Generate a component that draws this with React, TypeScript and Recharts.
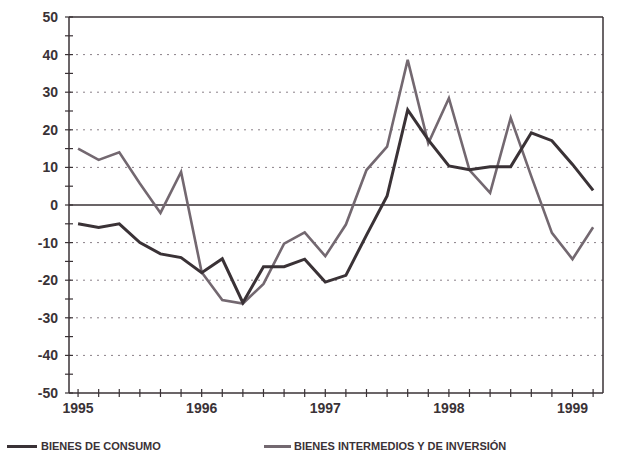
import React from "react";
import { LineChart, Line, XAxis, YAxis, CartesianGrid, ReferenceLine, Legend } from "recharts";

const periods = [
  "1995-01", "1995-03", "1995-05", "1995-07", "1995-09", "1995-11",
  "1996-01", "1996-03", "1996-05", "1996-07", "1996-09", "1996-11",
  "1997-01", "1997-03", "1997-05", "1997-07", "1997-09", "1997-11",
  "1998-01", "1998-03", "1998-05", "1998-07", "1998-09", "1998-11",
  "1999-01", "1999-03",
];
const consumo = [-5, -6, -5, -10, -13, -14, -18, -14.3, -26, -16.4, -16.4, -14.4, -20.5, -18.7, -8, 2.4, 25.3, 17.3, 10.4, 9.4, 10.2, 10.2, 19.2, 17.1, 10.8, 3.9];
const intermedios = [15, 12, 14, 5.7, -2.1, 8.8, -17.9, -25.3, -26.2, -21, -10.3, -7.3, -13.6, -5.2, 9.3, 15.5, 38.6, 16.4, 28.4, 9.3, 3.2, 23.2, 7.6, -7.4, -14.4, -5.9];
const yearLabels = ["1995", "1996", "1997", "1998", "1999"];
const yTicks = [-50, -45, -40, -35, -30, -25, -20, -15, -10, -5, 0, 5, 10, 15, 20, 25, 30, 35, 40, 45, 50];
const seriesNames = ["BIENES DE CONSUMO", "BIENES INTERMEDIOS Y DE INVERSIÓN"];

const X_MIN = -0.44;
const X_MAX = 25.48;

const data = periods.map((p, i) => ({ t: i, period: p, consumo: consumo[i], intermedios: intermedios[i] }));
const xTicks = periods.map((_, i) => i);

const INK = "#3a3236";
const LIGHT = "#736870";
const FONT = "'Liberation Sans', Arial, sans-serif";

const XTick = (props: any) => {
  const { x, y, payload } = props;
  const idx = payload.value as number;
  const p = periods[idx] || "";
  const isYear = p.endsWith("-01");
  return (
    <g>
      <line x1={x} x2={x} y1={y - 4} y2={y + 4} stroke={INK} strokeWidth={1.2} />
      {isYear && (
        <text x={x} y={y + 20} textAnchor="middle" fontFamily={FONT} fontSize={14} fontWeight="bold" fill={INK}>
          {yearLabels[Math.floor(idx / 6)]}
        </text>
      )}
    </g>
  );
};

const YTick = (props: any) => {
  const { x, y, payload } = props;
  const v = payload.value as number;
  const major = v % 10 === 0;
  return (
    <g>
      <line x1={x - 4} x2={x + 4} y1={y} y2={y} stroke={INK} strokeWidth={1.2} />
      {major && (
        <text x={x - 11} y={y + 5} textAnchor="end" fontFamily={FONT} fontSize={14} fontWeight="bold" fill={INK}>
          {String(v)}
        </text>
      )}
    </g>
  );
};

const LegendContent = () => (
  <div style={{ position: "relative", width: 635, height: 20, fontFamily: FONT }}>
    <div style={{ position: "absolute", left: 7, top: 0, display: "flex", alignItems: "center" }}>
      <span style={{ display: "inline-block", width: 30, height: 3, background: INK }} />
      <span style={{ marginLeft: 4, fontSize: 11, fontWeight: "bold", color: INK, whiteSpace: "nowrap" }}>{seriesNames[0]}</span>
    </div>
    <div style={{ position: "absolute", left: 264, top: 0, display: "flex", alignItems: "center" }}>
      <span style={{ display: "inline-block", width: 27, height: 3, background: LIGHT }} />
      <span style={{ marginLeft: 3, fontSize: 11, fontWeight: "bold", color: INK, whiteSpace: "nowrap" }}>{seriesNames[1]}</span>
    </div>
  </div>
);

export default function App() {
  return (
    <div style={{ position: "absolute", left: 0, top: 0, width: 635, height: 457, background: "#ffffff" }}>
      <LineChart width={635} height={457} data={data} margin={{ top: 17, right: 32, left: 0, bottom: 14 }}>
        <CartesianGrid horizontal={true} vertical={false} stroke="#8a8088" strokeDasharray="2 5" horizontalValues={[-40, -30, -20, -10, 10, 20, 30, 40]} />
        <XAxis
          dataKey="t"
          type="number"
          domain={[X_MIN, X_MAX]}
          ticks={xTicks}
          interval={0}
          tick={<XTick />}
          tickLine={false}
          tickSize={0}
          tickMargin={0}
          axisLine={{ stroke: INK, strokeWidth: 1.5 }}
          height={30}
          allowDataOverflow
        />
        <YAxis
          type="number"
          domain={[-50, 50]}
          ticks={yTicks}
          interval={0}
          tick={<YTick />}
          tickLine={false}
          tickSize={0}
          tickMargin={0}
          axisLine={{ stroke: INK, strokeWidth: 1.5 }}
          width={69}
        />
        <ReferenceLine y={50} stroke={INK} strokeWidth={1.5} ifOverflow="visible" />
        <ReferenceLine x={X_MAX} stroke={INK} strokeWidth={1.5} ifOverflow="visible" />
        <ReferenceLine y={0} stroke={INK} strokeWidth={1.3} />
        <Line type="linear" dataKey="intermedios" name={seriesNames[1]} stroke={LIGHT} strokeWidth={2.6} dot={false} isAnimationActive={false} />
        <Line type="linear" dataKey="consumo" name={seriesNames[0]} stroke={INK} strokeWidth={3} dot={false} isAnimationActive={false} />
        <Legend content={<LegendContent />} wrapperStyle={{ position: "absolute", left: 0, top: 440, width: 635 }} />
      </LineChart>
    </div>
  );
}
